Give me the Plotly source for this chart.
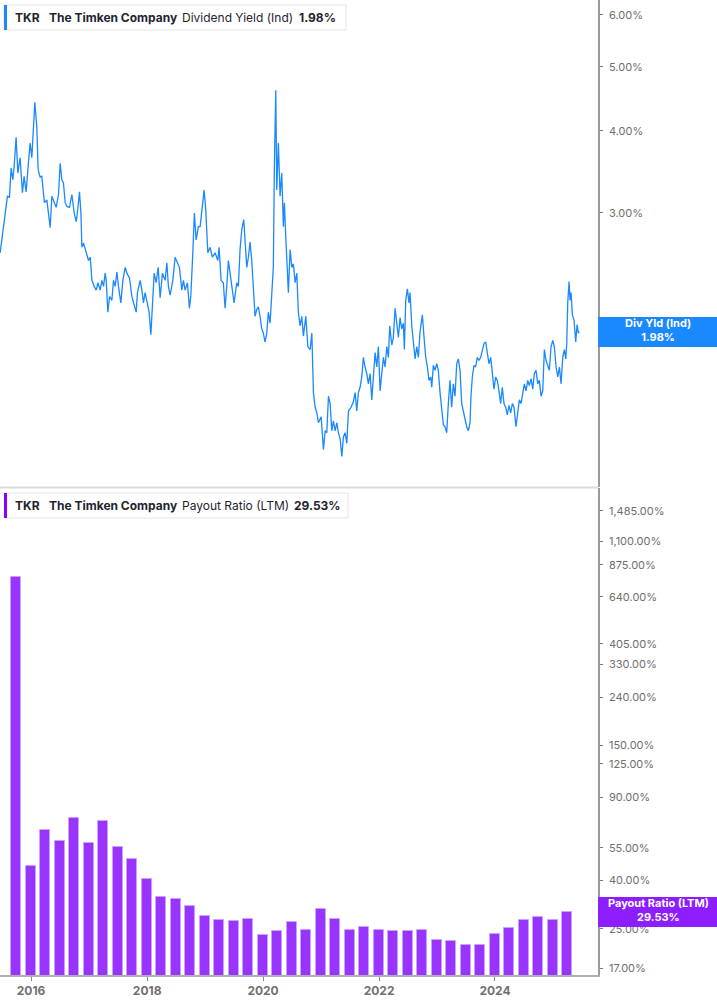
import pandas as pd
import plotly.graph_objects as go
from plotly.subplots import make_subplots

# --- Dividend yield (Ind), % -- dates as decimal years
dy_years = [
    2015.466, 2015.495, 2015.535, 2015.569, 2015.591, 2015.626, 2015.655, 2015.684, 2015.707, 2015.741,
    2015.771, 2015.810, 2015.850, 2015.879, 2015.914, 2015.953, 2015.983, 2016.012, 2016.040, 2016.064,
    2016.098, 2016.121, 2016.155, 2016.184, 2016.212, 2016.229, 2016.271, 2016.298, 2016.328, 2016.357,
    2016.397, 2016.431, 2016.471, 2016.500, 2016.529, 2016.557, 2016.586, 2016.616, 2016.660, 2016.702,
    2016.741, 2016.776, 2016.798, 2016.833, 2016.857, 2016.874, 2016.902, 2016.948, 2016.988, 2017.017,
    2017.047, 2017.086, 2017.121, 2017.150, 2017.190, 2017.219, 2017.247, 2017.276, 2017.293, 2017.322,
    2017.350, 2017.391, 2017.419, 2017.448, 2017.478, 2017.505, 2017.546, 2017.581, 2017.621, 2017.650,
    2017.695, 2017.736, 2017.764, 2017.810, 2017.833, 2017.879, 2017.909, 2017.936, 2017.965, 2017.995,
    2018.034, 2018.064, 2018.098, 2018.121, 2018.155, 2018.190, 2018.224, 2018.264, 2018.310, 2018.340,
    2018.367, 2018.397, 2018.443, 2018.483, 2018.522, 2018.557, 2018.598, 2018.626, 2018.655, 2018.695,
    2018.729, 2018.753, 2018.788, 2018.815, 2018.845, 2018.884,
    2018.914, 2018.943, 2018.983, 2019.012, 2019.047, 2019.086, 2019.126, 2019.172, 2019.219, 2019.241,
    2019.276, 2019.315, 2019.345, 2019.374, 2019.402, 2019.431, 2019.460, 2019.500, 2019.546, 2019.574,
    2019.603, 2019.633, 2019.667, 2019.690, 2019.719, 2019.747, 2019.776, 2019.805, 2019.833, 2019.862,
    2019.891, 2019.919, 2019.948, 2019.978, 2020.005, 2020.034, 2020.064, 2020.091, 2020.121, 2020.150,
    2020.177, 2020.195, 2020.219, 2020.236, 2020.264, 2020.293, 2020.322, 2020.350, 2020.367, 2020.391,
    2020.414, 2020.436, 2020.466, 2020.495, 2020.522, 2020.552, 2020.581, 2020.608, 2020.638, 2020.667,
    2020.695, 2020.736, 2020.771, 2020.810, 2020.840, 2020.867, 2020.897, 2020.926, 2020.953, 2021.000,
    2021.040, 2021.069, 2021.098, 2021.126, 2021.155, 2021.184, 2021.212, 2021.241, 2021.271, 2021.298,
    2021.328, 2021.357, 2021.384, 2021.414, 2021.443, 2021.471, 2021.517, 2021.557, 2021.586, 2021.615,
    2021.643, 2021.672, 2021.701, 2021.729, 2021.758, 2021.788, 2021.815, 2021.845, 2021.874, 2021.902,
    2021.931, 2021.960, 2021.988, 2022.017, 2022.047, 2022.074, 2022.103, 2022.133, 2022.160, 2022.184,
    2022.219, 2022.246, 2022.276, 2022.305, 2022.333, 2022.362, 2022.391, 2022.419, 2022.436, 2022.460,
    2022.488, 2022.517, 2022.534, 2022.564, 2022.591, 2022.621, 2022.650, 2022.678, 2022.707, 2022.747,
    2022.776, 2022.805, 2022.833, 2022.862, 2022.891, 2022.909, 2022.936, 2022.965, 2022.995, 2023.022,
    2023.052, 2023.081, 2023.109, 2023.138, 2023.167, 2023.195, 2023.224, 2023.253, 2023.281, 2023.310,
    2023.340, 2023.367, 2023.397, 2023.426, 2023.453, 2023.483, 2023.512, 2023.540, 2023.569, 2023.586,
    2023.609, 2023.638, 2023.667, 2023.695, 2023.724, 2023.753, 2023.781, 2023.810, 2023.840, 2023.867,
    2023.896, 2023.926, 2023.953, 2023.983, 2024.012, 2024.040, 2024.069, 2024.098, 2024.126, 2024.155,
    2024.184, 2024.212, 2024.241, 2024.271, 2024.298, 2024.328, 2024.362, 2024.391, 2024.419, 2024.448,
    2024.477, 2024.505, 2024.534, 2024.564, 2024.591, 2024.621, 2024.650, 2024.678, 2024.707, 2024.736,
    2024.764, 2024.793, 2024.822, 2024.850, 2024.879, 2024.909, 2024.936, 2024.965, 2024.995, 2025.022,
    2025.052, 2025.081, 2025.109, 2025.138, 2025.167, 2025.195, 2025.219, 2025.236, 2025.253, 2025.276,
    2025.293, 2025.310, 2025.333, 2025.362, 2025.391, 2025.414, 2025.436, 2025.453,
]
dy_values = [
    2.61, 2.73, 2.90, 3.11, 3.18, 3.17, 3.51, 3.37, 3.52, 3.91,
    3.45, 3.64, 3.22, 3.41, 3.23, 3.57, 3.83, 3.64, 4.15, 4.42,
    4.05, 3.49, 3.40, 3.41, 3.22, 3.11, 3.14, 3.00, 2.85, 3.18,
    3.11, 3.06, 3.20, 3.57, 3.37, 3.33, 3.11, 3.07, 3.06, 3.20,
    3.00, 2.91, 3.01, 3.23, 3.00, 2.66, 2.70, 2.61, 2.54, 2.57,
    2.37, 2.32, 2.29, 2.35, 2.29, 2.37, 2.32, 2.43, 2.37, 2.12,
    2.24, 2.21, 2.37, 2.32, 2.44, 2.32, 2.19, 2.37, 2.48, 2.43,
    2.39, 2.24, 2.19, 2.12, 2.27, 2.37, 2.29, 2.19, 2.27, 2.21,
    2.12, 1.96, 2.19, 2.43, 2.35, 2.48, 2.23, 2.43, 2.37, 2.52,
    2.32, 2.25, 2.37, 2.57, 2.52, 2.48, 2.29, 2.37, 2.29, 2.35,
    2.15, 2.24, 2.61, 3.00, 2.73, 2.86,
    2.86, 3.00, 3.25, 3.03, 2.61, 2.66, 2.57, 2.61, 2.54, 2.66,
    2.37, 2.35, 2.15, 2.32, 2.54, 2.43, 2.32, 2.19, 2.35, 2.32,
    2.64, 2.83, 2.93, 2.73, 2.48, 2.57, 2.71, 2.54, 2.32, 2.09,
    2.14, 2.16, 2.09, 2.00, 1.97, 1.91, 1.97, 2.12, 2.04, 2.32,
    2.48, 3.53, 4.61, 3.25, 3.83, 3.18, 3.45, 2.86, 3.11, 2.76,
    2.54, 2.27, 2.64, 2.48, 2.51, 2.35, 2.43, 2.12, 2.02, 2.09,
    1.95, 2.09, 1.88, 1.86, 1.97, 1.60, 1.52, 1.49, 1.44, 1.47,
    1.31, 1.40, 1.39, 1.58, 1.54, 1.40, 1.45, 1.40, 1.44, 1.39,
    1.36, 1.28, 1.37, 1.39, 1.34, 1.50, 1.52, 1.55, 1.60, 1.50,
    1.60, 1.63, 1.69, 1.81, 1.75, 1.71, 1.65, 1.71, 1.56, 1.71,
    1.84, 1.75, 1.88, 1.61, 1.73, 1.81, 1.75, 1.88, 1.81, 2.02,
    1.89, 1.94, 2.15, 2.02, 1.94, 2.08, 2.00, 2.04, 1.86, 2.21,
    2.30, 2.19, 2.27, 2.02, 1.92, 1.80, 1.88, 1.81, 1.98, 2.10,
    1.94, 1.81, 1.75, 1.67, 1.69, 1.63, 1.76, 1.73, 1.77, 1.73,
    1.60, 1.50, 1.43, 1.42, 1.39, 1.54, 1.67, 1.52, 1.65, 1.58,
    1.77, 1.80, 1.73, 1.54, 1.50, 1.47, 1.42, 1.40, 1.44, 1.58,
    1.69, 1.76, 1.75, 1.81, 1.79, 1.81, 1.86, 1.90, 1.91, 1.84,
    1.77, 1.81, 1.71, 1.62, 1.69, 1.67, 1.61, 1.54, 1.63, 1.54,
    1.52, 1.48, 1.53, 1.49, 1.54, 1.52, 1.42, 1.49, 1.56, 1.54,
    1.61, 1.65, 1.61, 1.67, 1.64, 1.68, 1.62, 1.71, 1.73, 1.65,
    1.67, 1.58, 1.61, 1.86, 1.79, 1.76, 1.73, 1.88, 1.92, 1.88,
    1.75, 1.69, 1.75, 1.65, 1.81, 1.86, 1.80, 1.90, 2.19, 2.36,
    2.21, 2.27, 2.10, 2.06, 1.91, 2.03, 1.97, 1.98,
]

# --- Payout ratio (LTM), %, quarterly
payout_quarters = [
    "2015-09-30", "2015-12-31",
    "2016-03-31", "2016-06-30", "2016-09-30", "2016-12-31",
    "2017-03-31", "2017-06-30", "2017-09-30", "2017-12-31",
    "2018-03-31", "2018-06-30", "2018-09-30", "2018-12-31",
    "2019-03-31", "2019-06-30", "2019-09-30", "2019-12-31",
    "2020-03-31", "2020-06-30", "2020-09-30", "2020-12-31",
    "2021-03-31", "2021-06-30", "2021-09-30", "2021-12-31",
    "2022-03-31", "2022-06-30", "2022-09-30", "2022-12-31",
    "2023-03-31", "2023-06-30", "2023-09-30", "2023-12-31",
    "2024-03-31", "2024-06-30", "2024-09-30", "2024-12-31",
    "2025-03-31",
]
payout_values = [
    777.0, 46.2,
    65.6, 59.1, 73.6, 57.8,
    71.6, 55.4, 49.3, 40.8,
    34.1, 33.3, 31.2, 28.2,
    27.2, 27.0, 27.5, 23.4,
    24.5, 26.8, 24.8, 30.4,
    27.6, 24.8, 25.4, 24.8,
    24.5, 24.5, 24.6, 22.4,
    22.2, 21.3, 21.4, 23.7,
    25.1, 27.3, 28.0, 27.2,
    29.53,
]

dy_ticks = [2, 3, 4, 5, 6]
payout_ticks = [17, 25, 40, 55, 90, 125, 150, 240, 330, 405, 640, 875, 1100, 1485]

BLUE = "#1a88ff"
PURPLE = "#9933ff"
FONT = "Inter"

W, H = 717, 1005
PLOT_W, PLOT_H = 598, 975


def to_date(y):
    year = int(y)
    start = pd.Timestamp(year, 1, 1)
    span = (pd.Timestamp(year + 1, 1, 1) - start).days
    return start + pd.Timedelta(days=(y - year) * span)


def px(x):
    return x / PLOT_W


def py(y):
    return 1 - y / PLOT_H


dy_dates = [to_date(y) for y in dy_years]

fig = make_subplots(rows=2, cols=1, shared_xaxes=True, vertical_spacing=0.001)

fig.add_trace(go.Scatter(
    x=dy_dates, y=dy_values, mode="lines",
    line=dict(color=BLUE, width=1.3), hoverinfo="skip"
), row=1, col=1)

fig.add_trace(go.Bar(
    x=pd.to_datetime(payout_quarters), y=payout_values,
    width=63 * 86400000,
    marker=dict(color=PURPLE, line=dict(color="#c9a2ff", width=1)),
    hoverinfo="skip"
), row=2, col=1)

axis_font = dict(family=FONT, size=11, color="#6e6e6e")

# the 2.00% label sits under the "Div Yld" tag in the original
dy_ticktext = ["" if v == 2 else f"{v:.2f}%" for v in dy_ticks]

fig.update_layout(
    width=W, height=H,
    margin=dict(l=0, r=W - PLOT_W, t=0, b=H - PLOT_H),
    plot_bgcolor="white", paper_bgcolor="white",
    showlegend=False, bargap=0,
    xaxis=dict(
        type="date", range=["2015-06-19", "2025-10-11"],
        showticklabels=False, ticks="", showline=False, showgrid=False, zeroline=False,
    ),
    xaxis2=dict(
        type="date", range=["2015-06-19", "2025-10-11"],
        tick0="2016-01-01", dtick="M24", tickformat="%Y",
        ticks="outside", ticklen=4, tickcolor="#8a8a8a",
        showline=True, linecolor="#b0b0b0", linewidth=2,
        showgrid=False, zeroline=False,
        tickfont=dict(family=FONT, size=12, color="#707070", weight=700),
    ),
    yaxis=dict(
        domain=[py(487), 1], type="log", range=[0.0607, 0.8007], side="right",
        tickvals=dy_ticks, ticktext=dy_ticktext,
        ticks="outside", ticklen=3, tickcolor="#777",
        showline=True, linecolor="#9a9a9a", linewidth=1.5,
        showgrid=False, zeroline=False, tickfont=axis_font, ticklabelstandoff=4,
    ),
    yaxis2=dict(
        domain=[0, py(488)], type="log", range=[1.2014, 3.268], side="right",
        tickvals=payout_ticks, ticktext=[f"{v:,.2f}%" for v in payout_ticks],
        ticks="outside", ticklen=3, tickcolor="#777",
        showline=True, linecolor="#9a9a9a", linewidth=1.5,
        showgrid=False, zeroline=False, tickfont=axis_font, ticklabelstandoff=4,
    ),
)

shapes = []
# panel separator
shapes.append(dict(type="line", xref="paper", yref="paper", x0=0, x1=1, y0=py(487.5), y1=py(487.5),
                   line=dict(color="#dcdcdc", width=2)))

annotations = []


def header(top, bottom, accent, metric, value, metric_x, value_x, box_right):
    shapes.append(dict(type="rect", xref="paper", yref="paper", layer="above",
                       x0=px(4), x1=px(box_right), y0=py(bottom), y1=py(top),
                       fillcolor="white", line=dict(color="#e4e4e4", width=1)))
    shapes.append(dict(type="rect", xref="paper", yref="paper", layer="above",
                       x0=px(4), x1=px(7), y0=py(bottom), y1=py(top),
                       fillcolor=accent, line=dict(width=0)))
    mid = py((top + bottom) / 2)
    parts = [("<b>TKR</b>", 13), ("<b>The Timken Company</b>", 46.5),
             (metric, metric_x), (f"<b>{value}</b>", value_x)]
    for text, x in parts:
        annotations.append(dict(text=text, xref="paper", yref="paper", x=px(x), y=mid,
                                xanchor="left", yanchor="middle", showarrow=False,
                                font=dict(family=FONT, size=12, color="#1f2430")))


def price_tag(top, bottom, color, label, value):
    shapes.append(dict(type="rect", xref="paper", yref="paper", layer="above",
                       x0=1, x1=px(W), y0=py(bottom), y1=py(top),
                       fillcolor=color, line=dict(width=0)))
    annotations.append(dict(text=f"<b>{label}</b><br><b>{value}</b>", xref="paper", yref="paper",
                            x=px(658), y=py((top + bottom) / 2 - 2),
                            xanchor="center", yanchor="middle", showarrow=False,
                            font=dict(family=FONT, size=11, color="white")))


header(5, 30, BLUE, "Dividend Yield (Ind)", "1.98%", 180, 297, 346)
header(493, 518, "#8a00ff", "Payout Ratio (LTM)", "29.53%", 180, 292, 348)
price_tag(317, 347, BLUE, "Div Yld (Ind)", "1.98%")
price_tag(897, 927, "#8c1eff", "Payout Ratio (LTM)", "29.53%")

fig.update_layout(shapes=shapes, annotations=annotations)

fig.write_html("out.html", config={"displayModeBar": False},
               post_script="document.body.style.margin='0';")
